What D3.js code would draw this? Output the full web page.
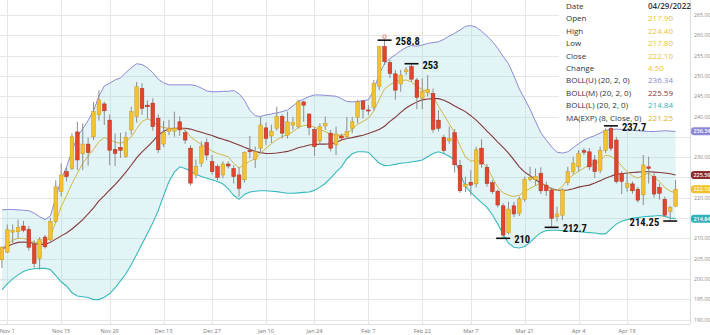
<!DOCTYPE html>
<html>
<head>
<meta charset="utf-8">
<script src="https://cdn.jsdelivr.net/npm/d3@7"></script>
<style>
  html, body { margin: 0; padding: 0; background: #fff; }
  svg { display: block; }
</style>
</head>
<body>
<svg id="chart" width="710" height="335"></svg>
<script>
// ---- Trading calendar (weekdays minus market holidays) ----
const firstDay = "2021-10-29";
const lastDay = "2022-04-29";
const holidays = ["2021-11-25", "2021-12-24", "2022-01-17", "2022-02-21", "2022-04-15"];

// ---- Daily OHLC ----
const open = [
  204.7, 206.6, 211.5, 211.6, 213.0, 212.2, 208.5, 205.0, 210.3, 209.6,
  214.1, 221.5, 226.4, 227.2, 236.2, 230.8, 233.2, 235.0, 240.4, 243.1,
  239.1, 231.9, 232.4, 230.1, 236.7, 240.0, 246.9, 242.8, 243.3, 239.6,
  233.2, 236.3, 236.4, 238.7, 236.0, 232.2, 225.6, 228.5, 233.6, 228.9,
  227.7, 225.6, 228.3, 227.2, 225.6, 224.4, 231.6, 229.5, 232.2, 237.2,
  235.2, 237.1, 240.0, 235.4, 237.9, 237.5, 243.6, 240.6, 236.8, 234.0,
  237.7, 235.9, 233.0, 235.2, 235.0, 237.1, 239.8, 243.8, 241.6, 242.3,
  247.4, 257.2, 253.3, 250.5, 248.0, 251.0, 252.3, 249.0, 244.5, 245.9,
  245.7, 239.1, 234.9, 234.0, 236.0, 228.0, 222.7, 223.8, 223.4, 232.2,
  227.5, 223.7, 221.6, 218.0, 211.4, 218.0, 216.2, 219.6, 224.5, 224.4,
  226.0, 223.1, 221.9, 215.3, 215.7, 223.7, 226.4, 227.6, 231.6, 231.3,
  229.3, 226.7, 231.7, 237.1, 234.2, 226.0, 222.5, 223.4, 222.1, 220.7,
  227.6, 225.2, 222.5, 219.6, 216.6, 217.9
];
const high = [
  208.0, 213.4, 213.4, 214.6, 214.3, 213.0, 209.5, 210.3, 210.8, 215.0,
  224.3, 228.5, 227.4, 235.9, 238.7, 238.3, 234.8, 243.6, 246.5, 243.6,
  240.5, 235.8, 236.0, 236.2, 242.4, 248.5, 248.2, 244.0, 244.5, 240.5,
  238.9, 239.2, 241.2, 240.0, 236.7, 232.9, 229.4, 233.9, 234.6, 230.5,
  228.2, 229.0, 228.9, 228.0, 227.5, 231.4, 235.2, 232.6, 239.9, 238.5,
  238.0, 242.4, 240.5, 241.2, 239.9, 244.1, 243.9, 240.8, 237.3, 238.3,
  240.0, 236.7, 237.5, 235.8, 239.9, 239.9, 244.1, 244.1, 242.8, 249.0,
  257.4, 258.8, 254.0, 251.5, 251.5, 252.2, 253.0, 249.5, 249.4, 250.2,
  246.9, 241.6, 235.5, 237.5, 236.9, 229.3, 225.2, 226.8, 232.6, 234.4,
  228.3, 224.4, 222.0, 218.6, 219.0, 219.0, 220.3, 225.2, 227.6, 227.2,
  227.5, 224.0, 222.5, 217.8, 222.3, 227.6, 230.1, 231.7, 232.2, 232.2,
  230.5, 232.6, 237.1, 237.7, 235.0, 226.5, 226.0, 224.0, 222.7, 230.5,
  230.1, 226.0, 223.5, 220.3, 218.0, 224.4
];
const low = [
  202.7, 206.4, 208.8, 210.0, 211.5, 207.0, 202.8, 202.3, 207.5, 209.3,
  213.8, 220.3, 224.0, 226.8, 226.8, 226.8, 227.9, 234.2, 239.0, 237.9,
  228.0, 227.8, 229.8, 229.8, 235.5, 238.5, 240.4, 239.4, 236.5, 231.0,
  232.5, 235.4, 235.0, 235.2, 233.3, 223.0, 224.7, 227.6, 229.2, 225.7,
  224.3, 224.8, 227.2, 223.5, 220.2, 223.7, 229.7, 227.3, 231.0, 233.0,
  233.5, 236.5, 234.6, 234.6, 236.6, 237.0, 238.7, 235.4, 230.3, 233.0,
  236.7, 231.4, 230.5, 234.2, 234.5, 235.9, 238.3, 239.5, 240.4, 241.5,
  246.5, 252.7, 249.5, 244.1, 246.1, 250.2, 248.6, 241.8, 241.8, 245.0,
  236.0, 236.3, 231.0, 233.3, 226.2, 221.2, 221.4, 220.6, 222.5, 227.4,
  222.7, 220.9, 217.6, 210.0, 211.0, 215.2, 215.5, 219.0, 224.0, 223.0,
  220.9, 220.5, 212.7, 214.1, 214.5, 223.0, 225.8, 226.5, 230.5, 226.8,
  224.8, 226.0, 231.0, 231.5, 223.5, 220.9, 221.5, 221.0, 218.8, 218.2,
  223.5, 220.0, 219.5, 215.3, 214.25, 217.8
];
const close = [
  207.8, 212.1, 212.0, 212.7, 212.0, 207.8, 203.8, 209.7, 207.9, 214.2,
  222.7, 225.6, 225.2, 235.0, 229.3, 233.2, 231.1, 241.2, 244.1, 241.4,
  231.7, 230.9, 231.7, 234.9, 241.2, 247.3, 242.0, 242.4, 237.5, 231.8,
  236.0, 237.1, 237.1, 236.7, 234.2, 223.6, 227.7, 232.6, 230.5, 226.4,
  225.0, 228.3, 227.8, 225.2, 222.3, 231.1, 231.3, 231.3, 237.9, 234.6,
  236.4, 240.0, 235.9, 238.7, 238.5, 243.6, 242.8, 237.3, 232.6, 237.5,
  238.3, 232.2, 235.7, 234.7, 236.3, 238.7, 243.6, 241.8, 241.4, 248.2,
  257.2, 253.5, 250.6, 246.5, 250.2, 251.5, 249.2, 244.7, 246.1, 246.7,
  236.8, 237.1, 231.6, 234.6, 228.1, 221.7, 223.3, 223.1, 231.8, 228.3,
  223.5, 221.5, 218.2, 210.8, 217.2, 216.0, 219.7, 224.5, 225.0, 225.2,
  221.7, 221.7, 214.9, 216.0, 221.9, 226.4, 228.5, 230.9, 231.2, 227.6,
  226.4, 231.6, 236.5, 232.2, 224.0, 224.0, 223.5, 221.7, 219.4, 228.05,
  227.2, 220.9, 221.1, 215.7, 217.6, 222.1
];

// ---- BOLL (20, 2, 0) ----
const bollUpper = [
  217.0, 217.1, 217.1, 217.0, 216.9, 216.8, 216.2, 215.3, 214.6, 215.5,
  220.0, 224.5, 227.6, 231.5, 235.0, 237.0, 239.0, 241.4, 245.0, 247.5,
  248.2, 249.0, 249.5, 250.8, 252.0, 253.0, 252.8, 252.0, 250.8, 249.2,
  248.3, 247.8, 247.8, 247.8, 247.8, 247.8, 247.6, 247.0, 246.3, 246.1,
  246.1, 246.2, 246.2, 246.4, 245.6, 244.0, 241.5, 240.2, 240.0, 240.4,
  240.6, 240.9, 241.2, 241.6, 242.6, 243.7, 244.3, 244.9, 245.3, 245.3,
  245.2, 245.1, 245.0, 244.4, 243.7, 243.6, 243.7, 243.9, 244.1, 246.5,
  250.5, 253.0, 254.3, 255.2, 256.2, 257.0, 257.5, 257.3, 257.6, 258.0,
  258.2, 258.4, 259.0, 259.8, 260.5, 261.3, 262.2, 262.4, 262.0, 261.0,
  259.8, 258.5, 256.8, 254.8, 253.0, 250.0, 246.8, 244.3, 241.8, 238.8,
  236.0, 234.2, 232.5, 231.2, 231.0, 231.3, 232.3, 233.3, 234.2, 234.8,
  235.3, 235.9, 236.6, 236.8, 236.9, 236.8, 236.7, 236.6, 236.5, 236.4,
  236.3, 236.3, 236.4, 236.5, 236.4, 236.34
];
const bollMiddle = [
  207.3, 208.0, 208.6, 209.0, 209.1, 209.0, 208.7, 208.5, 208.5, 209.0,
  209.8, 210.6, 211.3, 212.3, 213.4, 214.6, 216.0, 217.5, 219.2, 220.5,
  221.9, 223.2, 224.7, 226.3, 228.0, 229.8, 231.3, 232.5, 233.9, 235.4,
  236.4, 236.9, 237.1, 237.1, 237.1, 236.9, 236.5, 236.1, 235.7, 235.3,
  234.8, 234.4, 234.0, 233.5, 233.0, 232.4, 231.9, 231.4, 231.1, 230.9,
  230.9, 231.0, 231.2, 231.4, 231.8, 232.3, 232.6, 233.0, 233.1, 233.2,
  233.2, 233.3, 233.6, 234.2, 234.6, 234.8, 235.1, 235.4, 235.8, 236.3,
  236.8, 237.6, 238.8, 239.8, 241.0, 242.1, 242.9, 243.6, 244.1, 244.3,
  244.4, 244.4, 244.0, 243.4, 242.6, 241.9, 241.2, 240.2, 239.1, 237.8,
  236.4, 235.1, 233.7, 232.4, 231.0, 229.3, 227.6, 226.3, 225.4, 224.4,
  223.6, 222.8, 222.2, 221.9, 221.8, 221.9, 222.2, 222.6, 222.9, 223.1,
  223.6, 224.2, 224.8, 225.3, 225.8, 225.9, 226.1, 226.2, 226.3, 226.4,
  226.4, 226.3, 226.2, 226.1, 225.9, 225.59
];
const bollLower = [
  197.3, 198.8, 200.0, 201.0, 201.8, 202.3, 202.5, 202.6, 202.6, 202.3,
  200.8, 199.3, 198.2, 196.6, 195.8, 195.6, 195.4, 194.9, 194.9, 195.5,
  196.4, 197.8, 199.5, 201.2, 203.5, 206.0, 208.6, 211.2, 213.8, 216.8,
  220.5, 224.0, 226.3, 227.6, 227.2, 226.6, 225.8, 225.2, 224.8, 224.4,
  224.0, 223.4, 222.2, 220.6, 219.6, 220.8, 221.4, 221.6, 221.7, 221.7,
  221.6, 221.5, 221.3, 221.1, 221.1, 221.2, 221.3, 221.4, 221.8, 222.6,
  223.5, 224.8, 226.3, 227.6, 229.6, 230.8, 231.3, 231.3, 231.2, 229.8,
  228.5, 227.9, 228.0, 228.2, 228.5, 228.6, 228.8, 229.0, 229.3, 230.1,
  230.9, 231.3, 230.9, 230.2, 229.3, 226.0, 222.8, 221.3, 220.0, 218.8,
  217.6, 215.8, 213.5, 211.0, 208.8, 207.8, 207.6, 208.0, 209.0, 210.3,
  211.4, 211.9, 212.0, 212.0, 211.9, 211.8, 211.7, 211.6, 211.5, 211.4,
  211.3, 211.1, 211.1, 212.3, 213.5, 214.2, 214.6, 214.9, 215.1, 215.3,
  215.4, 215.5, 215.6, 215.4, 215.0, 214.84
];

// ---- MA(EXP) (8, Close, 0) ----
const emaValues = [
  207.6, 208.6, 209.5, 210.0, 210.0, 209.6, 209.0, 208.8, 208.9, 210.5,
  214.0, 217.8, 220.5, 223.5, 226.0, 228.5, 230.2, 231.9, 233.8, 234.8,
  234.3, 233.7, 233.4, 233.8, 235.0, 237.0, 238.8, 239.4, 238.9, 237.6,
  237.3, 237.1, 237.1, 237.1, 236.7, 235.0, 234.0, 233.1, 232.4, 231.5,
  230.9, 230.5, 230.1, 228.5, 227.3, 228.2, 229.0, 229.6, 231.0, 232.2,
  233.3, 234.3, 235.0, 235.6, 236.2, 237.3, 237.8, 237.8, 237.4, 236.8,
  236.3, 235.6, 235.4, 235.4, 235.7, 236.9, 238.0, 238.8, 239.6, 241.3,
  244.2, 246.8, 247.8, 248.6, 248.8, 249.0, 248.5, 247.5, 246.6, 246.2,
  244.9, 242.5, 240.4, 238.2, 236.0, 232.8, 230.0, 229.0, 229.2, 228.9,
  227.6, 225.0, 222.6, 221.2, 220.6, 220.3, 220.6, 221.5, 222.3, 223.0,
  223.6, 223.0, 222.0, 221.8, 222.8, 224.5, 225.6, 226.5, 227.3, 228.0,
  228.4, 229.1, 230.5, 230.2, 229.3, 227.8, 226.4, 225.4, 224.8, 225.6,
  226.0, 225.0, 224.0, 222.5, 221.6, 221.25
];

// ---- Axis ticks ----
const priceTicks = [190, 195, 200, 205, 210, 215, 220, 225, 230, 235, 240, 245, 250, 255, 260, 265];
const dateTicks = ["2021-11-01", "2021-11-15", "2021-11-29", "2021-12-13", "2021-12-27", "2022-01-10",
                   "2022-01-24", "2022-02-07", "2022-02-22", "2022-03-07", "2022-03-21", "2022-04-04", "2022-04-18"];
const dateTickLabels = ["Nov 1", "Nov 15", "Nov 29", "Dec 13", "Dec 27", "Jan 10",
                        "Jan 24", "Feb 7", "Feb 22", "Mar 7", "Mar 21", "Apr 4", "Apr 18"];

// ---- Marked highs and lows ----
const markDates = ["2022-02-10", "2022-02-17", "2022-03-15", "2022-03-28", "2022-04-12", "2022-04-28"];
const markKinds = ["high", "high", "low", "low", "high", "low"];
const markSides = ["right", "right", "right", "right", "right", "left"];

// ---- Colours ----
const upFill = "#f3c232", upStroke = "#c99a1c";
const downFill = "#e2452c", downStroke = "#ad2d1c";
const wickColor = "#8d8d8d";
const upperColor = "#8e89d6", middleColor = "#83393b", lowerColor = "#37b9bd", emaColor = "#d2b54a";
const bandFill = "rgba(160, 218, 226, 0.30)";
const gridColor = "#e6e6e6";

// ---- Build ----
const parse = d3.utcParse("%Y-%m-%d");
const fmtDay = d3.utcFormat("%Y-%m-%d");
const dates = d3.utcDays(parse(firstDay), d3.utcDay.offset(parse(lastDay), 1))
  .filter(d => d.getUTCDay() % 6 !== 0 && !holidays.includes(fmtDay(d)))
  .map(fmtDay);

const plotRight = 690, plotBottom = 324;

const x = d3.scaleBand().domain(dates).range([-0.8, 678.3]).paddingInner(0.32).paddingOuter(0.16);
const cx = d => x(d) + x.bandwidth() / 2;
const y = d3.scaleLinear().domain([190, 265]).range([319.5, 15]);

const svg = d3.select("#chart");
const font = "'Open Sans', 'Noto Sans', sans-serif";
const f2 = d3.format(".2f");

svg.append("defs").append("clipPath").attr("id", "plotClip")
  .append("rect").attr("x", 0).attr("y", 0).attr("width", plotRight).attr("height", plotBottom);

// grid
const grid = svg.append("g");
grid.selectAll("line.h").data(priceTicks).join("line")
  .attr("x1", 0).attr("x2", plotRight)
  .attr("y1", d => Math.round(y(d)) + 0.5).attr("y2", d => Math.round(y(d)) + 0.5)
  .attr("stroke", gridColor).attr("stroke-width", 1);
grid.selectAll("line.v").data(dateTicks).join("line")
  .attr("x1", d => Math.round(cx(d)) + 0.5).attr("x2", d => Math.round(cx(d)) + 0.5)
  .attr("y1", 0).attr("y2", plotBottom)
  .attr("stroke", gridColor).attr("stroke-width", 1);
grid.append("line").attr("x1", 0).attr("x2", plotRight).attr("y1", plotBottom + 0.5).attr("y2", plotBottom + 0.5)
  .attr("stroke", "#dcdcdc");
grid.append("line").attr("x1", plotRight + 0.5).attr("x2", plotRight + 0.5).attr("y1", 0).attr("y2", plotBottom)
  .attr("stroke", "#dcdcdc");

const plot = svg.append("g").attr("clip-path", "url(#plotClip)");
const idx = d3.range(dates.length);

// Bollinger envelope
plot.append("path").datum(idx)
  .attr("d", d3.area().x(i => cx(dates[i])).y0(i => y(bollLower[i])).y1(i => y(bollUpper[i])))
  .attr("fill", bandFill);

const lineOf = arr => d3.line().x(i => cx(dates[i])).y(i => y(arr[i]));
[[bollUpper, upperColor, 1], [bollLower, lowerColor, 1.1], [bollMiddle, middleColor, 1.1], [emaValues, emaColor, 1]]
  .forEach(([arr, col, w]) => {
    plot.append("path").datum(idx).attr("d", lineOf(arr))
      .attr("fill", "none").attr("stroke", col).attr("stroke-width", w);
  });

// candles
const candles = plot.append("g").selectAll("g").data(idx).join("g");
candles.append("line")
  .attr("x1", i => cx(dates[i])).attr("x2", i => cx(dates[i]))
  .attr("y1", i => y(high[i])).attr("y2", i => y(low[i]))
  .attr("stroke", wickColor).attr("stroke-width", 1);
candles.append("rect")
  .attr("x", i => x(dates[i]))
  .attr("width", x.bandwidth())
  .attr("y", i => y(Math.max(open[i], close[i])))
  .attr("height", i => Math.max(1, Math.abs(y(open[i]) - y(close[i]))))
  .attr("fill", i => close[i] >= open[i] ? upFill : downFill)
  .attr("stroke", i => close[i] >= open[i] ? upStroke : downStroke)
  .attr("stroke-width", 0.5);

// x axis labels
svg.append("g").selectAll("text").data(dateTicks).join("text")
  .attr("x", d => cx(d)).attr("y", 332.5).attr("text-anchor", "middle")
  .attr("font-family", font).attr("font-size", 5.6).attr("fill", "#777")
  .text((d, k) => dateTickLabels[k]);

// last-value badges
const last = dates.length - 1;
const badges = [
  [bollUpper[last], upperColor],
  [bollMiddle[last], "#8a2c2c"],
  [close[last], "#f0c030"],
  [bollLower[last], "#2fb3b6"]
];

// price axis labels (those sitting under a badge are left out)
const freeTicks = priceTicks.filter(t => badges.every(([v]) => Math.abs(y(v) - y(t)) > 6.5));
svg.append("g").selectAll("text").data(freeTicks).join("text")
  .attr("x", 694).attr("y", d => y(d) + 2).attr("text-anchor", "start")
  .attr("font-family", font).attr("font-size", 5.3).attr("fill", "#888")
  .text(d => f2(d));

const bg = svg.append("g");
badges.forEach(([v, col]) => {
  bg.append("rect").attr("x", 691).attr("y", y(v) - 4).attr("width", 24).attr("height", 8)
    .attr("rx", 3).attr("fill", col);
  bg.append("text").attr("x", 693.5).attr("y", y(v) + 2).attr("font-family", font)
    .attr("font-size", 5.4).attr("font-weight", 600).attr("fill", "#fff")
    .text(f2(v));
});

// data legend
const change = close[last] - close[last - 1];
const lastDate = parse(dates[last]);
const legendRows = [
  ["Date", d3.utcFormat("%m/%d/%Y")(lastDate), "#333"],
  ["Open", f2(open[last]), "#eec23a"],
  ["High", f2(high[last]), "#eec23a"],
  ["Low", f2(low[last]), "#eec23a"],
  ["Close", f2(close[last]), "#eec23a"],
  ["Change", f2(change), "#eec23a"],
  ["BOLL(U) (20, 2, 0)", f2(bollUpper[last]), "#8d86d2"],
  ["BOLL(M) (20, 2, 0)", f2(bollMiddle[last]), "#8e3030"],
  ["BOLL(L) (20, 2, 0)", f2(bollLower[last]), "#34b6b8"],
  ["MA(EXP) (8, Close, 0)", f2(emaValues[last]), "#d8b32c"]
];
const lg = svg.append("g");
lg.append("rect").attr("x", 559).attr("y", 0).attr("width", plotRight - 559).attr("height", 121).attr("fill", "#fff");
legendRows.forEach(([label, val, col], k) => {
  const ty = 6 + k * 12.4 + 2.9;
  lg.append("text").attr("x", 566).attr("y", ty).attr("font-family", font).attr("font-size", 8)
    .attr("fill", "#333").text(label);
  lg.append("text").attr("x", 648).attr("y", ty).attr("font-family", font).attr("font-size", 8)
    .attr("font-weight", k === 0 ? 600 : 400).attr("fill", col).text(val);
});

// marked highs / lows, drawn last so they sit above the legend panel
const marks = svg.append("g");
markDates.forEach((d, k) => {
  const i = dates.indexOf(d);
  const v = markKinds[k] === "high" ? high[i] : low[i];
  const px = cx(d), py = y(v);
  marks.append("line").attr("x1", px - 7).attr("x2", px + 7).attr("y1", py).attr("y2", py)
    .attr("stroke", "#111").attr("stroke-width", 1.6);
  const right = markSides[k] === "right";
  marks.append("text")
    .attr("x", right ? px + 11 : px - 11).attr("y", py + (k === 4 ? 5.6 : 4.8))
    .attr("text-anchor", right ? "start" : "end")
    .attr("font-family", "'Liberation Sans Narrow', 'Arial Narrow', 'Roboto', sans-serif")
    .attr("font-stretch", "condensed")
    .attr("font-weight", "bold").attr("font-size", 10.5).attr("fill", "#111")
    .text(String(v));
});
// high-of-range marker
{
  const i = dates.indexOf(markDates[0]);
  marks.append("circle").attr("cx", cx(markDates[0])).attr("cy", y(high[i]) - 3.5).attr("r", 1.8)
    .attr("fill", "#fff").attr("stroke", "#e05a48").attr("stroke-width", 0.8);
}
</script>
</body>
</html>
